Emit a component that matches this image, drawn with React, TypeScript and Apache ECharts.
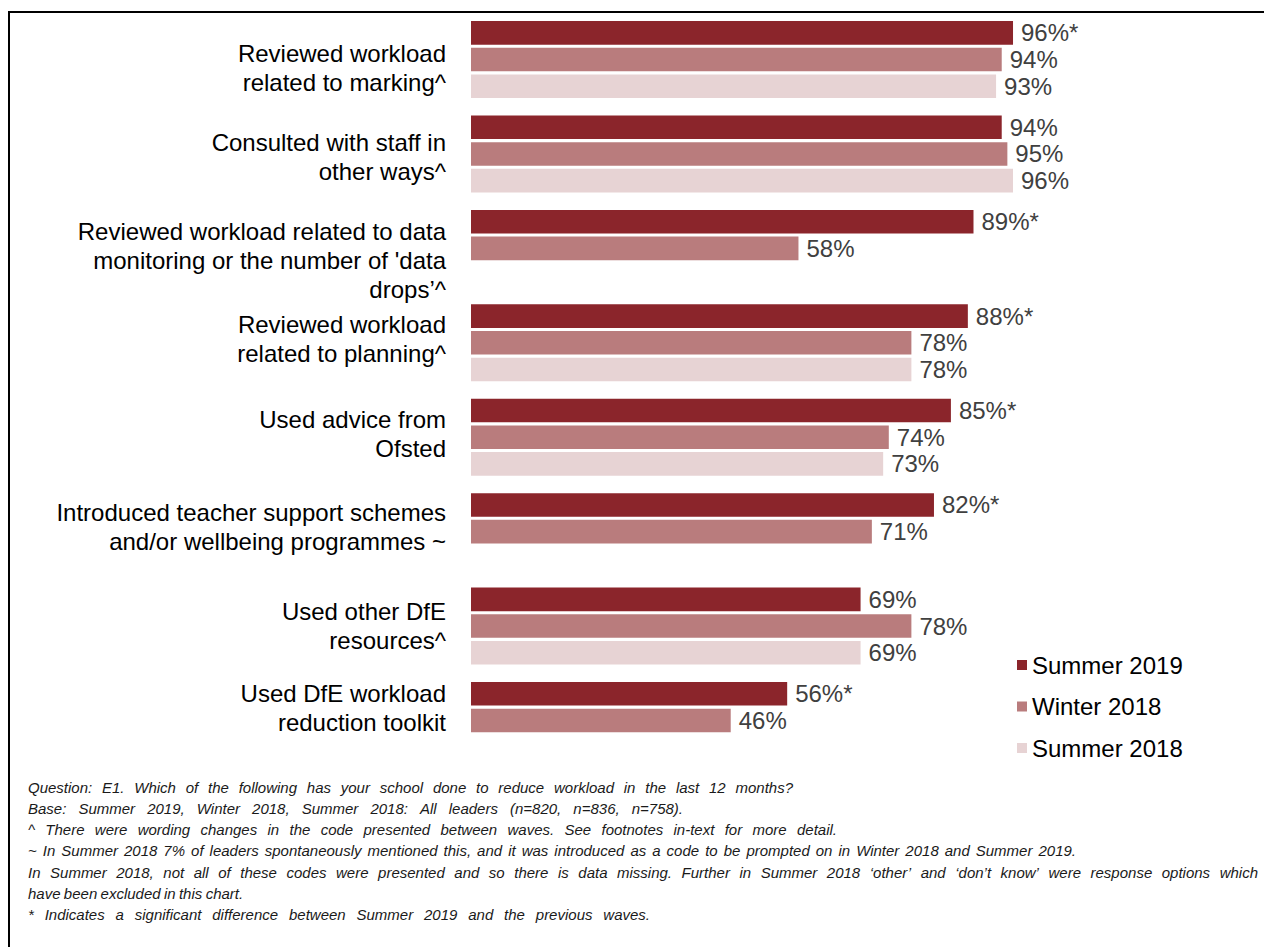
import React, { useEffect, useRef } from 'react';
import * as echarts from 'echarts';

// ---------- data ----------
const categories = [
  'Reviewed workload\nrelated to marking^',
  'Consulted with staff in\nother ways^',
  "Reviewed workload related to data\nmonitoring or the number of 'data\ndrops’^",
  'Reviewed workload\nrelated to planning^',
  'Used advice from\nOfsted',
  'Introduced teacher support schemes\nand/or wellbeing programmes ~',
  'Used other DfE\nresources^',
  'Used DfE workload\nreduction toolkit',
];
const seriesNames = ['Summer 2019', 'Winter 2018', 'Summer 2018'];
const summer2019 = [96, 94, 89, 88, 85, 82, 69, 56];
const winter2018 = [94, 95, 58, 78, 74, 71, 78, 46];
const summer2018 = [93, 96, null, 78, 73, null, 69, null];
const significant2019 = [true, false, true, true, true, true, false, true];

const footnotes = [
  'Question: E1. Which of the following has your school done to reduce workload in the last 12 months?',
  'Base: Summer 2019, Winter 2018, Summer 2018: All leaders (n=820, n=836, n=758).',
  '^ There were wording changes in the code presented between waves. See footnotes in-text for more detail.',
  '~ In Summer 2018 7% of leaders spontaneously mentioned this, and it was introduced as a code to be prompted on in Winter 2018 and Summer 2019.',
  'In Summer 2018, not all of these codes were presented and so there is data missing. Further in Summer 2018 ‘other’ and ‘don’t know’ were response options which',
  'have been excluded in this chart.',
  '* Indicates a significant difference between Summer 2019 and the previous waves.',
];

// ---------- layout / style ----------
const colors = ['#8B252B', '#B97C7D', '#E7D3D4'];
const labelOffsets = [8, 3, 12, -4, -3, -5, 0, -12];
const footEnds = [793, 683, 837, 1076, 1258, 233, 650];
const FOOT_SIZE = 15;
const FOOT_FAMILY = 'Liberation Sans';
const FOOT_X = 28;
const FOOT_Y0 = 787;
const FOOT_STEP = 21.33;
const LABEL_SIZE = 24;
const VALUE_SIZE = 24;

function buildFootnotes() {
  const canvas = document.createElement('canvas');
  const ctx = canvas.getContext('2d') as CanvasRenderingContext2D;
  ctx.font = `italic ${FOOT_SIZE}px "${FOOT_FAMILY}"`;
  const spaceW = ctx.measureText(' ').width;
  const els: any[] = [];
  const baseStyle = {
    fill: '#1a1a1a',
    fontSize: FOOT_SIZE,
    fontStyle: 'italic',
    fontFamily: FOOT_FAMILY,
    verticalAlign: 'middle',
    align: 'left',
  };
  footnotes.forEach((line, i) => {
    const y = FOOT_Y0 + i * FOOT_STEP;
    const end = footEnds[i];
    const words = line.split(' ');
    const widths = words.map((w) => ctx.measureText(w).width);
    const total = widths.reduce((a, b) => a + b, 0);
    let gap = words.length > 1 ? (end - FOOT_X - total) / (words.length - 1) : spaceW;
    if (gap < spaceW * 0.8) gap = spaceW * 0.8;
    let x = FOOT_X;
    words.forEach((w, k) => {
      els.push({ type: 'text', x, y, silent: true, style: { ...baseStyle, text: w } });
      x += widths[k] + gap;
    });
  });
  return els;
}

export default function App() {
  const ref = useRef<HTMLDivElement>(null);
  useEffect(() => {
    if (!ref.current) return;
    const chart = echarts.init(ref.current, undefined, { renderer: 'svg' });
    const seriesData = [summer2019, winter2018, summer2018];
    const rich: any = {
      t: { fontSize: LABEL_SIZE, lineHeight: 29, color: '#000', fontFamily: 'Liberation Sans' },
    };
    labelOffsets.forEach((off, i) => {
      rich['sp' + i] = { fontSize: 1, lineHeight: Math.max(1, 2 * Math.abs(off)) };
    });
    const option: any = {
      animation: false,
      backgroundColor: '#fff',
      textStyle: { fontFamily: 'Liberation Sans' },
      grid: { left: 471, right: 228.4, top: 12.3, bottom: 179.3, containLabel: false },
      xAxis: { type: 'value', min: 0, max: 100, show: false },
      yAxis: {
        type: 'category',
        inverse: true,
        data: categories,
        axisLine: { show: false },
        axisTick: { show: false },
        splitLine: { show: false },
        axisLabel: {
          interval: 0,
          fontSize: LABEL_SIZE,
          lineHeight: 29,
          color: '#000',
          margin: 25,
          align: 'right',
          fontFamily: 'Liberation Sans',
          rich,
          formatter: (value: string, index: number) => {
            const off = labelOffsets[index];
            const lines = value.split('\n').map((l) => `{t|${l}}`);
            if (off > 0) lines.unshift(`{sp${index}| }`);
            else if (off < 0) lines.push(`{sp${index}| }`);
            return lines.join('\n');
          },
        },
      },
      legend: {
        orient: 'vertical',
        left: 1012,
        top: 648,
        itemWidth: 10,
        itemHeight: 10,
        itemGap: 17.5,
        icon: 'rect',
        data: seriesNames,
        textStyle: { fontSize: LABEL_SIZE, color: '#000', fontFamily: 'Liberation Sans' },
      },
      series: seriesNames.map((name, s) => ({
        name,
        type: 'bar',
        data: seriesData[s],
        barWidth: 23.6,
        barGap: '13%',
        itemStyle: { color: colors[s] },
        label: {
          show: true,
          position: 'right',
          distance: 8,
          fontSize: VALUE_SIZE,
          color: '#404040',
          fontFamily: 'Liberation Sans',
          formatter: (p: any) =>
            `${p.value}%${s === 0 && significant2019[p.dataIndex] ? '*' : ''}`,
        },
      })),
      graphic: [
        {
          type: 'rect',
          silent: true,
          shape: { x: 9, y: 12, width: 1400, height: 1200 },
          style: { fill: 'none', stroke: '#000', lineWidth: 2 },
        },
        ...buildFootnotes(),
      ],
    };
    chart.setOption(option);
    return () => chart.dispose();
  }, []);
  return (
    <div
      ref={ref}
      style={{ position: 'fixed', left: 0, top: 0, width: 1264, height: 947, background: '#fff' }}
    />
  );
}
